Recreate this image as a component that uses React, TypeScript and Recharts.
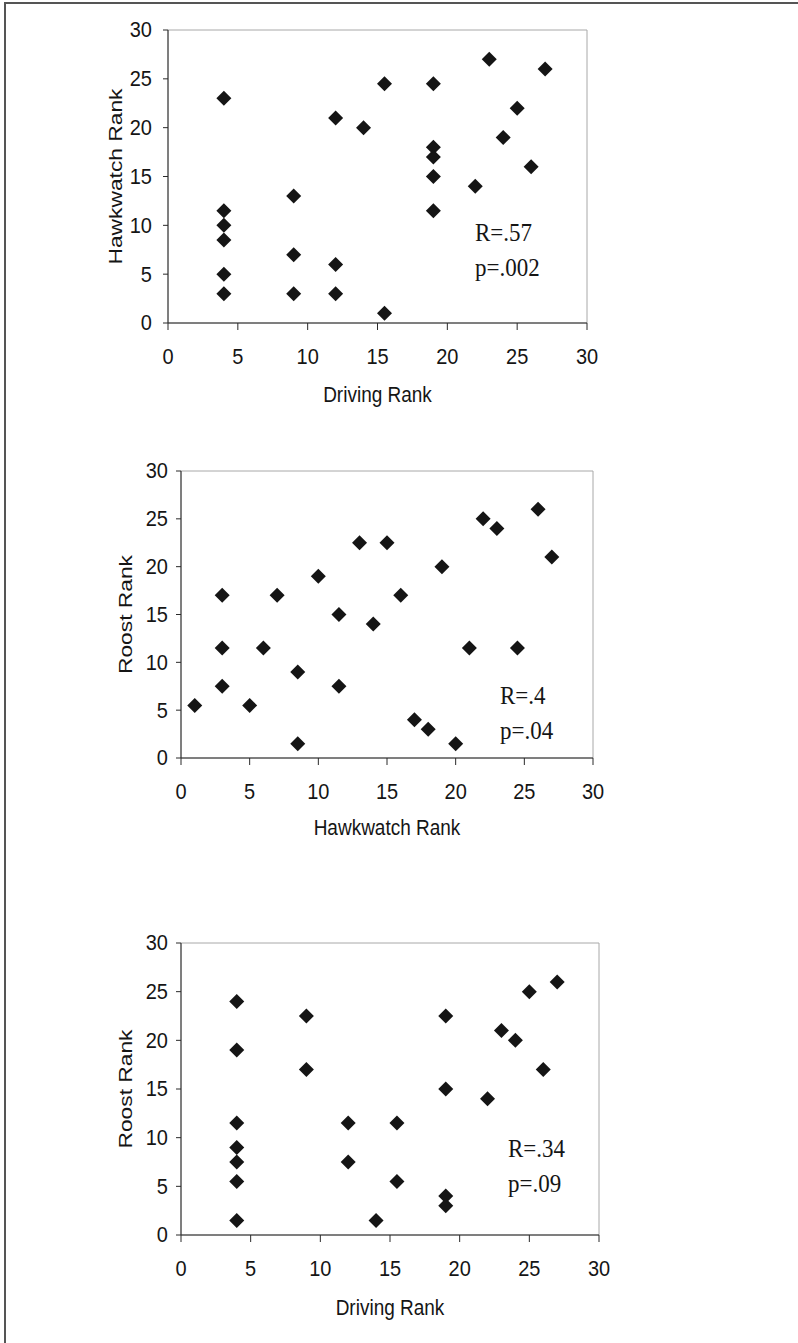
import React from "react";
import { ScatterChart, Scatter, XAxis, YAxis, ReferenceArea } from "recharts";

// Driving rank vs Hawkwatch rank
const drivingHawk = [
  { x: 4, y: 23 }, { x: 4, y: 11.5 }, { x: 4, y: 10 }, { x: 4, y: 8.5 }, { x: 4, y: 5 }, { x: 4, y: 3 },
  { x: 9, y: 13 }, { x: 9, y: 7 }, { x: 9, y: 3 },
  { x: 12, y: 21 }, { x: 12, y: 6 }, { x: 12, y: 3 },
  { x: 14, y: 20 },
  { x: 15.5, y: 24.5 }, { x: 15.5, y: 1 },
  { x: 19, y: 24.5 }, { x: 19, y: 18 }, { x: 19, y: 17 }, { x: 19, y: 15 }, { x: 19, y: 11.5 },
  { x: 22, y: 14 }, { x: 23, y: 27 }, { x: 24, y: 19 }, { x: 25, y: 22 }, { x: 26, y: 16 }, { x: 27, y: 26 },
];

// Hawkwatch rank vs Roost rank
const hawkRoost = [
  { x: 1, y: 5.5 }, { x: 3, y: 17 }, { x: 3, y: 11.5 }, { x: 3, y: 7.5 }, { x: 5, y: 5.5 },
  { x: 6, y: 11.5 }, { x: 7, y: 17 }, { x: 8.5, y: 9 }, { x: 8.5, y: 1.5 }, { x: 10, y: 19 },
  { x: 11.5, y: 15 }, { x: 11.5, y: 7.5 }, { x: 13, y: 22.5 }, { x: 14, y: 14 }, { x: 15, y: 22.5 },
  { x: 16, y: 17 }, { x: 17, y: 4 }, { x: 18, y: 3 }, { x: 19, y: 20 }, { x: 20, y: 1.5 },
  { x: 21, y: 11.5 }, { x: 22, y: 25 }, { x: 23, y: 24 }, { x: 24.5, y: 11.5 }, { x: 26, y: 26 },
  { x: 27, y: 21 },
];

// Driving rank vs Roost rank
const drivingRoost = [
  { x: 4, y: 24 }, { x: 4, y: 19 }, { x: 4, y: 11.5 }, { x: 4, y: 9 }, { x: 4, y: 7.5 }, { x: 4, y: 5.5 }, { x: 4, y: 1.5 },
  { x: 9, y: 22.5 }, { x: 9, y: 17 },
  { x: 12, y: 11.5 }, { x: 12, y: 7.5 },
  { x: 14, y: 1.5 },
  { x: 15.5, y: 11.5 }, { x: 15.5, y: 5.5 },
  { x: 19, y: 22.5 }, { x: 19, y: 15 }, { x: 19, y: 4 }, { x: 19, y: 3 },
  { x: 22, y: 14 }, { x: 23, y: 21 }, { x: 24, y: 20 }, { x: 25, y: 25 }, { x: 26, y: 17 }, { x: 27, y: 26 },
];

const rankTicks = [0, 5, 10, 15, 20, 25, 30];

const SANS = "'Liberation Sans', Arial, sans-serif";
const SERIF = "'Liberation Serif', 'Times New Roman', serif";
const INK = "#151515";
const STRETCH = 1.14; // the scan is a bit taller than it is wide

const Diamond = (props: any) => {
  const { cx, cy } = props;
  if (cx == null || cy == null) return null;
  const r = 7.5;
  return <path d={`M${cx},${cy - r}L${cx + r},${cy}L${cx},${cy + r}L${cx - r},${cy}Z`} fill={INK} />;
};

const XTick = (props: any) => {
  const { x, y, payload } = props;
  return (
    <text
      transform={`translate(${x},${y + 7}) scale(1,${STRETCH})`}
      textAnchor="middle"
      dominantBaseline="central"
      fill={INK}
      fontSize={20}
      fontFamily={SANS}
    >
      {payload.value}
    </text>
  );
};

const YTick = (props: any) => {
  const { x, y, payload } = props;
  return (
    <text
      transform={`translate(${x},${y}) scale(1,${STRETCH})`}
      textAnchor="end"
      dominantBaseline="central"
      fill={INK}
      fontSize={20}
      fontFamily={SANS}
    >
      {payload.value}
    </text>
  );
};

interface PanelProps {
  top: number;
  data: { x: number; y: number }[];
  xTitle: string;
  yTitle: string;
  margin: { top: number; right: number; bottom: number; left: number };
  yAxisWidth: number;
  yTickGap: number;
  yTitleX: number;
  xTitleDy: number;
  stats: string[];
  statsLeft: number;
  statsTop: number;
}

const Panel: React.FC<PanelProps> = ({
  top, data, xTitle, yTitle, margin, yAxisWidth, yTickGap, yTitleX, xTitleDy, stats, statsLeft, statsTop,
}) => {
  return (
    <div style={{ position: "absolute", left: 0, top, width: 798, height: 430 }}>
      <ScatterChart width={798} height={430} margin={margin}>
        <ReferenceArea x1={0} x2={30} y1={0} y2={30} fill="none" stroke="#a8a8a8" strokeWidth={1} ifOverflow="visible" />
        <XAxis
          type="number"
          dataKey="x"
          domain={[0, 30]}
          ticks={rankTicks}
          interval={0}
          height={90}
          stroke="#2a2a2a"
          tickSize={7}
          tickMargin={20}
          tick={<XTick />}
          label={(p: any) => {
            const vb = p.viewBox || {};
            return (
              <text
                transform={`translate(${vb.x + vb.width / 2},${vb.y + xTitleDy}) scale(1,${STRETCH})`}
                textAnchor="middle"
                dominantBaseline="central"
                fill={INK}
                fontSize={19}
                fontFamily={SANS}
              >
                {xTitle}
              </text>
            );
          }}
        />
        <YAxis
          type="number"
          dataKey="y"
          domain={[0, 30]}
          ticks={rankTicks}
          interval={0}
          width={yAxisWidth}
          stroke="#2a2a2a"
          tickSize={5}
          tickMargin={yTickGap}
          tick={<YTick />}
          label={(p: any) => {
            const vb = p.viewBox || {};
            const cy = vb.y + vb.height / 2;
            return (
              <text
                transform={`translate(${yTitleX},${cy}) rotate(-90) scale(1.2,1)`}
                textAnchor="middle"
                dominantBaseline="central"
                fill={INK}
                fontSize={19}
                fontFamily={SANS}
              >
                {yTitle}
              </text>
            );
          }}
        />
        <Scatter data={data} shape={Diamond} isAnimationActive={false} />
      </ScatterChart>
      <div
        style={{
          position: "absolute",
          left: statsLeft,
          top: statsTop,
          fontFamily: SERIF,
          fontSize: 23,
          lineHeight: "31px",
          color: INK,
          whiteSpace: "nowrap",
          transform: `scale(1,${STRETCH})`,
          transformOrigin: "0 15px",
        }}
      >
        {stats.map((s) => (
          <div key={s}>{s}</div>
        ))}
      </div>
    </div>
  );
};

export default function App() {
  return (
    <div
      style={{
        position: "absolute",
        left: 0,
        top: 0,
        width: 798,
        height: 1343,
        background: "#fff",
        overflow: "hidden",
      }}
    >
      <div
        style={{
          position: "absolute",
          left: 4,
          top: 2,
          width: 794,
          height: 1341,
          borderTop: "2px solid #555",
          borderLeft: "2px solid #555",
        }}
      />
      <Panel
        top={0}
        data={drivingHawk}
        xTitle="Driving Rank"
        yTitle="Hawkwatch Rank"
        margin={{ top: 30, right: 211, bottom: 17, left: 0 }}
        yAxisWidth={168}
        yTickGap={11}
        yTitleX={115}
        xTitleDy={72}
        stats={["R=.57", "p=.002"]}
        statsLeft={475}
        statsTop={232 - 15}
      />
      <Panel
        top={440}
        data={hawkRoost}
        xTitle="Hawkwatch Rank"
        yTitle="Roost Rank"
        margin={{ top: 31, right: 205, bottom: 22, left: 0 }}
        yAxisWidth={181}
        yTickGap={8}
        yTitleX={125}
        xTitleDy={70}
        stats={["R=.4", "p=.04"]}
        statsLeft={500}
        statsTop={695 - 440 - 15}
      />
      <Panel
        top={910}
        data={drivingRoost}
        xTitle="Driving Rank"
        yTitle="Roost Rank"
        margin={{ top: 33, right: 199, bottom: 15, left: 0 }}
        yAxisWidth={181}
        yTickGap={8}
        yTitleX={125}
        xTitleDy={73}
        stats={["R=.34", "p=.09"]}
        statsLeft={508}
        statsTop={1148 - 910 - 15}
      />
    </div>
  );
}
